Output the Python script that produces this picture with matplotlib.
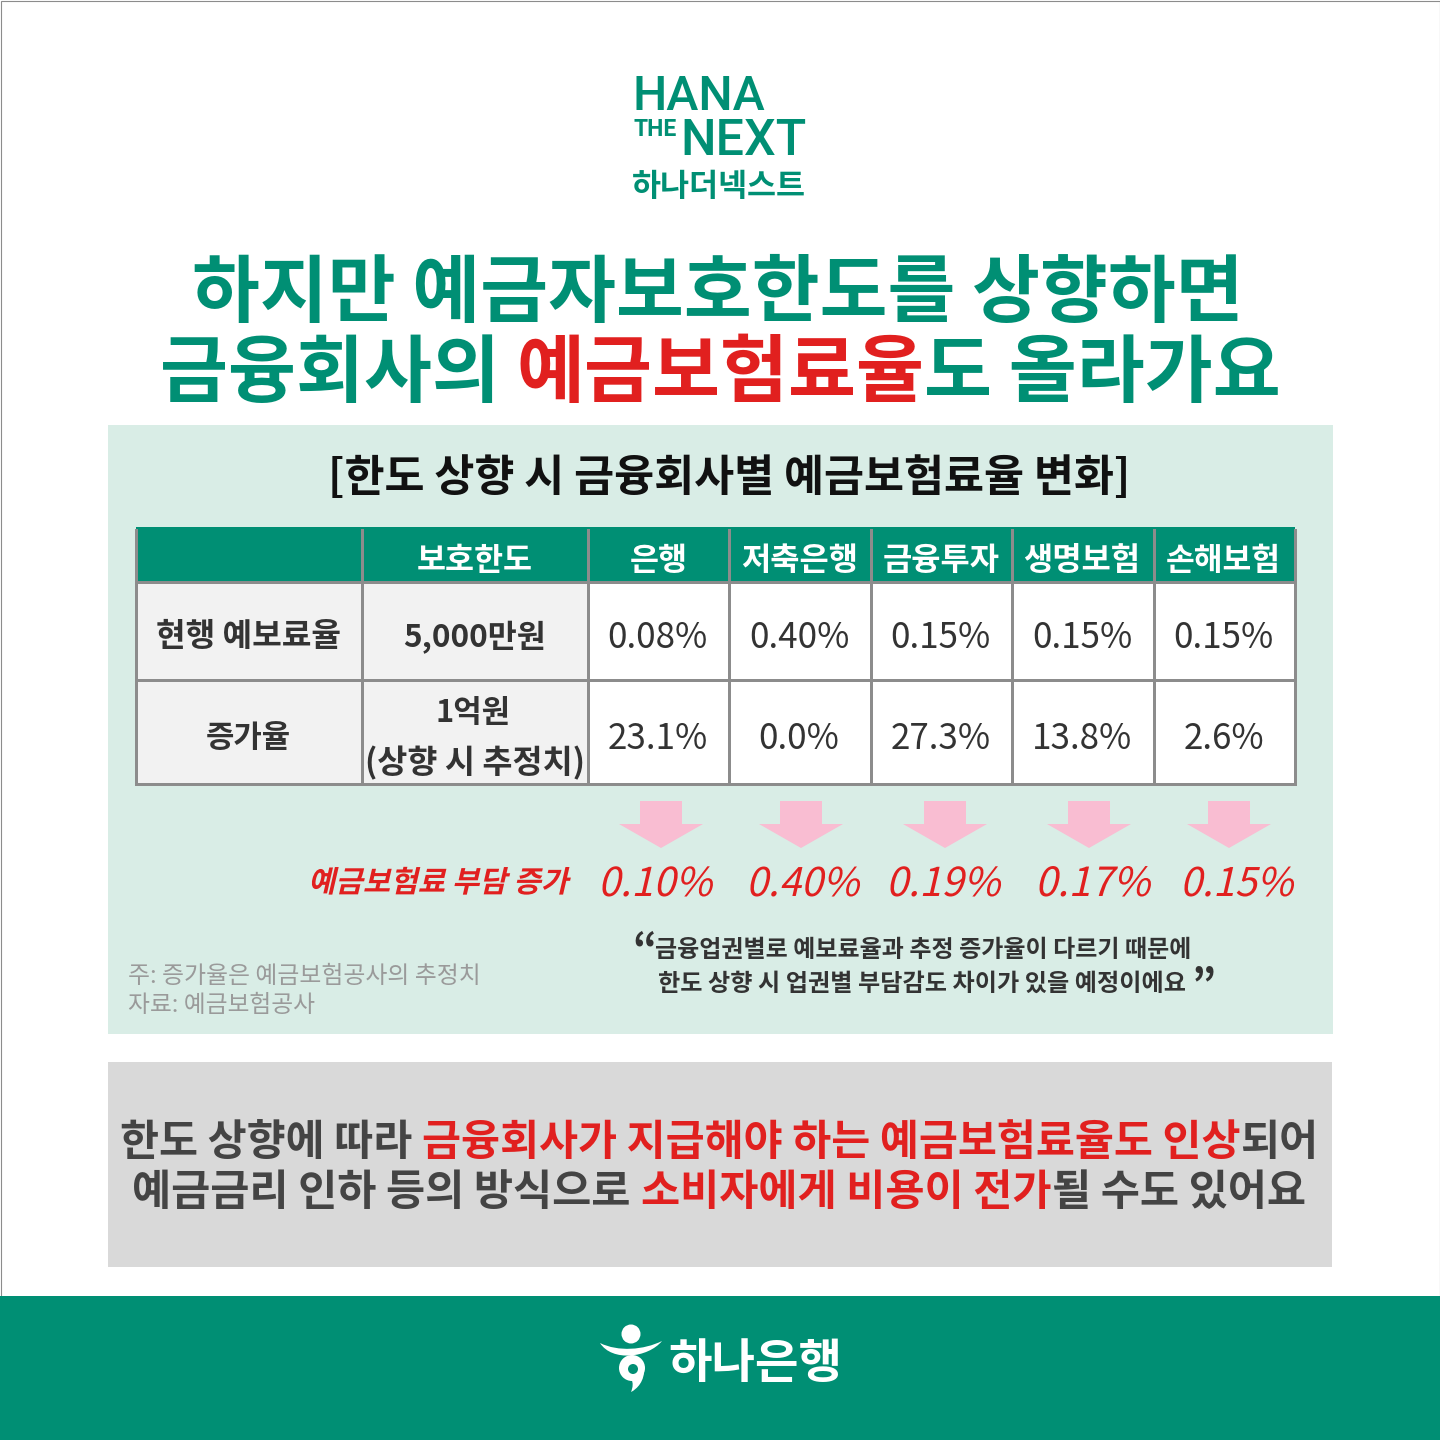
import matplotlib
matplotlib.use('Agg')
import matplotlib.pyplot as plt
import matplotlib.patheffects as pe
from matplotlib.patches import Rectangle, Polygon, Circle, PathPatch
from matplotlib.path import Path
from matplotlib.transforms import Affine2D

plt.rcParams['font.family'] = ['Noto Sans CJK KR', 'DejaVu Sans']

GREEN = '#008f74'
RED = '#e1201f'
DARK = '#333333'
LOGO_FONT = ['Roboto', 'DejaVu Sans']

# table data
columns = ['보호한도', '은행', '저축은행', '금융투자', '생명보험', '손해보험']
row_labels = ['현행 예보료율', '증가율']
limits = ['5,000만원', '1억원', '(상향 시 추정치)']
current_rates = ['0.08%', '0.40%', '0.15%', '0.15%', '0.15%']
increase_rates = ['23.1%', '0.0%', '27.3%', '13.8%', '2.6%']
burden_label = '예금보험료 부담 증가'
burden_rates = ['0.10%', '0.40%', '0.19%', '0.17%', '0.15%']

# layout, in pixels of the 1440 canvas
col_edges = [136, 362, 588, 729, 871, 1012, 1154, 1295]
row_edges = [527, 582, 680, 784]
header_spans = [(417, 533), (630, 688), (741, 858), (883, 1000), (1023, 1140), (1166, 1281)]
arrow_x = [661, 801, 945, 1089, 1229]
burden_spans = [(598, 712), (746, 859), (886, 1000), (1035, 1150), (1180, 1293)]

fig = plt.figure(figsize=(7.2, 7.2), dpi=200)
ax = fig.add_axes([0, 0, 1, 1])
ax.set_xlim(0, 1440)
ax.set_ylim(1440, 0)
ax.axis('off')


class Shear(pe.AbstractPathEffect):
    # slants the real text, the CJK fonts have no italic
    def __init__(self, deg=13):
        super().__init__()
        self.deg = deg

    def draw_path(self, renderer, gc, tpath, affine, rgbFace=None):
        renderer.draw_path(gc, tpath, Affine2D().skew_deg(self.deg, 0) + affine, rgbFace)


def put(x, y, s, px, color=DARK, weight='regular', ha='center', shear=False, family=None):
    t = ax.text(x, y, s, fontsize=px * 0.36, color=color, weight=weight, ha=ha, va='baseline')
    if family:
        t.set_family(family)
    if shear:
        t.set_path_effects([Shear()])
    return t


def fit(segments, x0, x1, y, weight='bold', shear=False, family=None):
    # one line out of coloured pieces, scaled so that it spans x0..x1
    renderer = fig.canvas.get_renderer()
    pieces = [put(0, y, s, 40, c, weight, 'left', shear, family) for s, c in segments]
    widths = [p.get_window_extent(renderer).width for p in pieces]
    to_data = 1440 / fig.bbox.width
    scale = (x1 - x0) / (sum(widths) * to_data)
    x = x0
    for p, w in zip(pieces, widths):
        p.set_fontsize(40 * scale * 0.36)
        p.set_x(x)
        x += w * to_data * scale
    return pieces


# page
ax.add_patch(Rectangle((0.5, 0.5), 1439, 1439, fc='white', ec='#8c8c8c', lw=0.4))
ax.add_patch(Rectangle((108, 425), 1225, 609, fc='#d9ede6', ec='none'))
ax.add_patch(Rectangle((108, 1062), 1224, 205, fc='#d9d9d9', ec='none'))
ax.add_patch(Rectangle((0, 1296), 1440, 144, fc=GREEN, ec='none'))

# logo
fit([('HANA', GREEN)], 632, 765, 110, 'medium', family=LOGO_FONT)
fit([('THE', GREEN)], 634, 677, 136, 'bold', family=LOGO_FONT)
fit([('NEXT', GREEN)], 680, 806, 155, 'medium', family=LOGO_FONT)
fit([('하나더넥스트', GREEN)], 632, 806, 196, 'bold')

# title
fit([('하지만 예금자보호한도를 상향하면', GREEN)], 192, 1242, 316)
fit([('금융회사의 ', GREEN), ('예금보험료율', RED), ('도 올라가요', GREEN)], 160, 1280, 396)
fit([('[한도 상향 시 금융회사별 예금보험료율 변화]', '#111111')], 328, 1131, 491)

# table
ax.add_patch(Rectangle((col_edges[0], row_edges[0]), col_edges[-1] - col_edges[0],
                       row_edges[1] - row_edges[0], fc=GREEN, ec='none'))
ax.add_patch(Rectangle((col_edges[0], row_edges[1]), col_edges[2] - col_edges[0],
                       row_edges[3] - row_edges[1], fc='#f2f2f2', ec='none'))
ax.add_patch(Rectangle((col_edges[2], row_edges[1]), col_edges[-1] - col_edges[2],
                       row_edges[3] - row_edges[1], fc='white', ec='none'))
line_w = 3 * 0.36
for y in row_edges[1:]:
    ax.plot([col_edges[0], col_edges[-1]], [y, y], color='#8c8c8c', lw=line_w, solid_capstyle='butt')
for x in col_edges:
    ax.plot([x, x], [row_edges[0] + 3, row_edges[-1]], color='#8c8c8c', lw=line_w, solid_capstyle='projecting')

centers = [(a + b) / 2 for a, b in zip(col_edges[:-1], col_edges[1:])]
for (x0, x1), name in zip(header_spans, columns):
    fit([(name, 'white')], x0, x1, 570)

fit([(row_labels[0], DARK)], 156, 341, 646)
fit([(row_labels[1], DARK)], 206, 291, 747)
fit([(limits[0], DARK)], 403, 546, 647)
fit([(limits[1], DARK)], 435, 510, 722)
fit([(limits[2], DARK)], 365, 585, 773)
for x, cur, inc in zip(centers[2:], current_rates, increase_rates):
    put(x - 1, 648, cur, 35, DARK)
    put(x - 1, 749, inc, 35, DARK)

# arrows and burden row
for x in arrow_x:
    ax.add_patch(Polygon([(x - 21, 801), (x + 21, 801), (x + 21, 824), (x + 42, 824),
                          (x, 848), (x - 42, 824), (x - 21, 824)], fc='#f9bdd2', ec='none'))
fit([(burden_label, RED)], 308, 568, 892, 'bold', shear=True)
for (x0, x1), rate in zip(burden_spans, burden_rates):
    fit([(rate, RED)], x0, x1, 896, 'regular', shear=True)

# notes
fit([('주: 증가율은 예금보험공사의 추정치', '#9a9a9a')], 128, 480, 983, 'regular')
fit([('자료: 예금보험공사', '#9a9a9a')], 128, 315, 1012, 'regular')

# quote
fit([('금융업권별로 예보료율과 추정 증가율이 다르기 때문에', DARK)], 655, 1190, 957, 'bold')
fit([('한도 상향 시 업권별 부담감도 차이가 있을 예정이에요', DARK)], 658, 1185, 991, 'bold')
put(644, 963, '“', 42, DARK, 'bold')
put(1204, 998, '”', 42, DARK, 'bold')

# grey box
fit([('한도 상향에 따라 ', '#444444'), ('금융회사가 지급해야 하는 예금보험료율도 인상', RED), ('되어', '#444444')],
    120, 1318, 1155, 'bold')
fit([('예금금리 인하 등의 방식으로 ', '#444444'), ('소비자에게 비용이 전가', RED), ('될 수도 있어요', '#444444')],
    132, 1306, 1205, 'bold')

# footer mark and name
swoosh = Path([(600, 1343), (618, 1352), (644, 1350), (662, 1341),
               (648, 1358), (612, 1362), (600, 1343)],
              [Path.MOVETO, Path.CURVE4, Path.CURVE4, Path.CURVE4,
               Path.CURVE4, Path.CURVE4, Path.CURVE4])
ax.add_patch(PathPatch(swoosh, fc='white', ec='none'))
ax.add_patch(Circle((631, 1334), 9.5, fc='white', ec='none'))
tail = Path([(644, 1368), (645, 1381), (637, 1389), (631, 1392),
             (635, 1382), (632, 1376), (620, 1370), (644, 1368)],
            [Path.MOVETO, Path.CURVE4, Path.CURVE4, Path.CURVE4,
             Path.CURVE4, Path.CURVE4, Path.CURVE4, Path.CLOSEPOLY])
ax.add_patch(PathPatch(tail, fc='white', ec='none'))
ax.add_patch(Circle((632, 1368), 13, fc='white', ec='none'))
ax.add_patch(Circle((633, 1369), 5, fc=GREEN, ec='none'))
fit([('하나은행', 'white')], 668, 842, 1378, 'bold')

fig.savefig('out.png', dpi=200)
